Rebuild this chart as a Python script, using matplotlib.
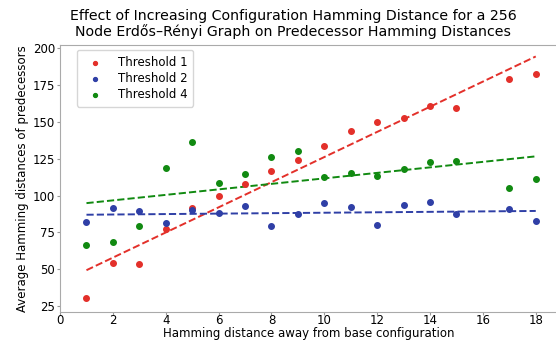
import numpy as np
import matplotlib
matplotlib.use("Agg")
import matplotlib.pyplot as plt

# Hamming distance from base configuration
distances = [1, 2, 3, 4, 5, 6, 7, 8, 9, 10, 11, 12, 13, 14, 15, 17, 18]

# average Hamming distances of predecessors
threshold_1 = [30.2, 54.4, 53.5, 77.0, 91.3, 99.7, 107.6, 116.9, 124.3, 133.8,
               143.6, 149.7, 152.9, 160.8, 159.4, 179.1, 182.7]
threshold_2 = [81.8, 91.3, 89.5, 81.5, 90.2, 87.9, 92.9, 79.3, 87.4, 94.7,
               92.0, 80.2, 93.8, 95.8, 87.4, 90.8, 82.9]
threshold_4 = [66.4, 68.6, 79.5, 118.5, 136.6, 108.3, 114.8, 126.4, 130.0, 112.6,
               115.3, 113.3, 117.8, 122.8, 123.4, 105.1, 111.2]

series = [("Threshold 1", threshold_1, "#e3302a"),
          ("Threshold 2", threshold_2, "#2f3fa6"),
          ("Threshold 4", threshold_4, "#118a11")]

fig = plt.figure(figsize=(5.56, 3.41), dpi=100)
ax = fig.add_axes([0.108, 0.086, 0.896, 0.782])

x = np.array(distances)
for label, vals, col in series:
    ax.scatter(x, vals, s=16, color=col, label=label, zorder=3)
    m, b = np.polyfit(x, vals, 1)
    ax.plot(x, m * x + b, "--", color=col, lw=1.4)

ax.set_xlim(0, 18.85)
ax.set_ylim(21.1, 202.3)
ax.set_xticks(range(0, 19, 2))
ax.set_yticks(range(25, 201, 25))
ax.tick_params(labelsize=8.5, length=2, color="#999999", width=0.8, pad=1.5)
ax.tick_params(axis="x", pad=0)
for sp in ax.spines.values():
    sp.set_color("#aaaaaa")

ax.set_xlabel("Hamming distance away from base configuration", fontsize=8.5, labelpad=0)
ax.set_ylabel("Average Hamming distances of predecessors", fontsize=8.5, labelpad=3)
fig.text(0.527, 0.975, "Effect of Increasing Configuration Hamming Distance for a 256\n"
         "Node Erdős–Rényi Graph on Predecessor Hamming Distances",
         ha="center", va="top", fontsize=10.2, linespacing=1.1)

ax.legend(loc="upper left", fontsize=8.5, markerscale=0.7, handletextpad=0.95,
          borderaxespad=0, labelspacing=0.25, borderpad=0.5,
          bbox_to_anchor=(0.034, 0.981))

fig.savefig("out.png", dpi=100)
